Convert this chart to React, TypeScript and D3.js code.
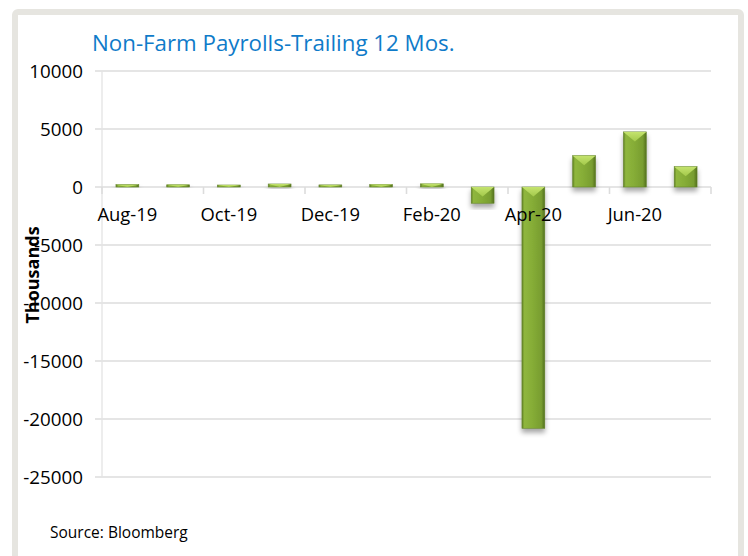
import React from "react";
import * as d3 from "d3";

const categories = ["Aug-19","Sep-19","Oct-19","Nov-19","Dec-19","Jan-20","Feb-20","Mar-20","Apr-20","May-20","Jun-20","Jul-20"];
const payrolls = [200, 190, 170, 260, 180, 210, 270, -1400, -20800, 2700, 4750, 1750];
const yTicks = [10000, 5000, 0, -5000, -10000, -15000, -20000, -25000];
const labelEvery = 2;
const title = "Non-Farm Payrolls-Trailing 12 Mos.";
const yTitle = "Thousands";
const source = "Source: Bloomberg";

const W = 748, H = 556;
const FONT = "'Open Sans', 'Noto Sans', sans-serif";

export default function App() {
  const left = 102, right = 711, top = 71, bottom = 477;
  const x = d3.scaleBand<string>().domain(categories).range([left, right]).paddingInner(0.55).paddingOuter(0.275);
  const y = d3.scaleLinear().domain([-25000, 10000]).range([bottom, top]);
  const step = x.step();
  const bw = x.bandwidth();
  const zeroY = y(0);

  return (
    <svg width={W} height={H} style={{ position: "absolute", left: 0, top: 0 }} fontFamily={FONT}>
      <defs>
        <linearGradient id="barBody" x1="0" y1="0" x2="1" y2="0">
          <stop offset="0" stopColor="#5f7f24" />
          <stop offset="0.1" stopColor="#8fb63e" />
          <stop offset="0.45" stopColor="#86ad37" />
          <stop offset="0.85" stopColor="#789d30" />
          <stop offset="1" stopColor="#53701e" />
        </linearGradient>
        <linearGradient id="barTop" x1="0" y1="0" x2="0" y2="1">
          <stop offset="0" stopColor="#c4e36e" />
          <stop offset="1" stopColor="#a3c94b" />
        </linearGradient>
        <filter id="shadow" x="-50%" y="-20%" width="200%" height="160%">
          <feDropShadow dx="0" dy="4" stdDeviation="2.5" floodColor="#000" floodOpacity="0.35" />
        </filter>
      </defs>
      <rect x={15} y={12} width={726} height={570} rx={3} fill="#fff" stroke="#e6e5e0" strokeWidth={6} />
      <text x={92} y={51} fontSize={22.3} fill="#0f7bc9">{title}</text>

      {yTicks.map((t) => (
        <g key={t}>
          {t !== 0 && <line x1={95} x2={right} y1={y(t)} y2={y(t)} stroke="#dcdcdc" strokeWidth={1.6} />}
          <text x={83} y={y(t)} dy="0.35em" textAnchor="end" fontSize={18.8} fill="#000">{t}</text>
        </g>
      ))}
      <line x1={left} x2={left} y1={top} y2={bottom} stroke="#e3e3e3" strokeWidth={1.3} />
      <line x1={95} x2={right} y1={zeroY} y2={zeroY} stroke="#dcdcdc" strokeWidth={1.6} />
      {d3.range(0, categories.length + 1, labelEvery).map((i) => (
        <line key={i} x1={left + i * step} x2={left + i * step} y1={zeroY} y2={zeroY + 7} stroke="#dcdcdc" strokeWidth={1.6} />
      ))}

      {payrolls.map((v, i) => {
        const x0 = x(categories[i]) as number;
        const y0 = y(Math.max(0, v));
        const y1 = y(Math.min(0, v));
        const h = Math.max(1.5, y1 - y0);
        const tri = Math.min(9.5, h);
        return (
          <g key={categories[i]} filter="url(#shadow)">
            <rect x={x0} y={y0} width={bw} height={h} fill="url(#barBody)" stroke="#62822a" strokeWidth={0.6} />
            <polygon points={`${x0},${y0} ${x0 + bw},${y0} ${x0 + bw / 2},${y0 + tri}`} fill="url(#barTop)" />
          </g>
        );
      })}

      {categories.map((c, i) => i % labelEvery === 0 ? (
        <text key={c} x={(x(c) as number) + bw / 2} y={221} textAnchor="middle" fontSize={18.4} fill="#000">{c}</text>
      ) : null)}

      <text transform={`translate(39,275) rotate(-90)`} textAnchor="middle" fontSize={18} fontWeight="bold" fill="#000">{yTitle}</text>
      <text x={50} y={538} fontSize={15.5} fill="#000">{source}</text>
    </svg>
  );
}
